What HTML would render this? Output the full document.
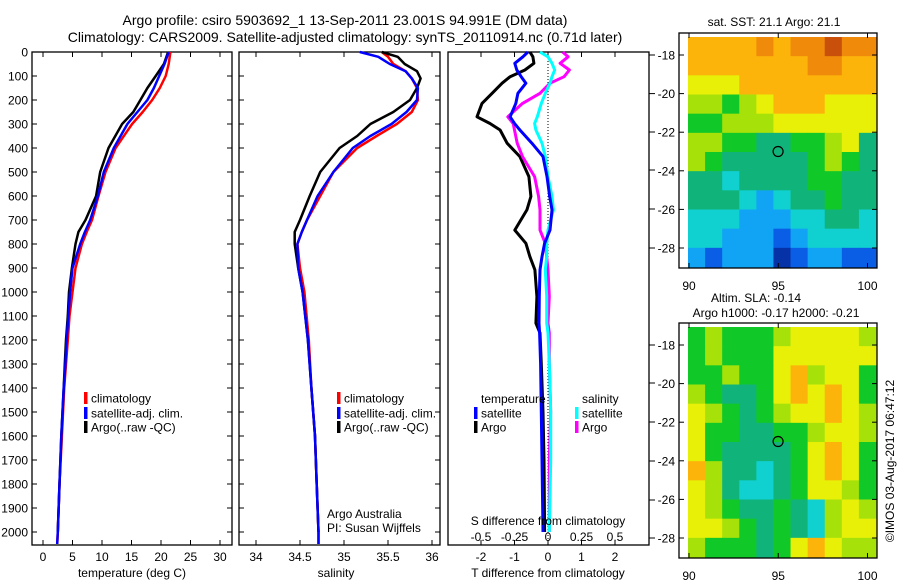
<!DOCTYPE html>
<html><head><meta charset="utf-8"><style>
html,body{margin:0;padding:0;background:#fff}
svg{display:block;font-family:"Liberation Sans",sans-serif}
</style></head><body>
<svg id="c" width="900" height="580" viewBox="0 0 900 580" xmlns="http://www.w3.org/2000/svg">
<text x="345" y="25" font-size="14" text-anchor="middle">Argo profile: csiro 5903692_1 13-Sep-2011 23.001S 94.991E (DM data)</text>
<text x="345" y="42" font-size="14" text-anchor="middle">Climatology: CARS2009. Satellite-adjusted climatology: synTS_20110914.nc (0.71d later)</text>
<g id="g"></g>
</svg>
<script>
// ---- data ----
const tDepth = [0,50,100,150,200,250,300,400,500,600,700,750,800,900,1000,1100,1200,1300,1400,1600,1800,2000,2050];
const tClim  = [21.6,21.3,20.8,19.8,18.5,16.9,15.1,12.3,10.6,9.4,8.3,7.4,6.6,5.5,5.0,4.5,4.2,3.9,3.6,3.2,2.8,2.5,2.4];
const tSat   = [21.3,20.6,19.7,18.8,17.7,16.0,14.3,12.0,10.3,9.3,8.0,7.1,6.3,5.0,4.6,4.3,4.0,3.8,3.5,3.1,2.8,2.5,2.4];
const tArgo  = [21.2,20.5,19.1,17.7,16.5,15.3,13.4,11.1,9.7,9.0,7.2,6.0,5.5,4.9,4.4,4.2,3.9,3.7,3.5,3.1,2.8,2.5,2.5];
const sDepth = [0,20,50,80,110,150,200,250,300,350,400,500,600,700,750,800,900,1000,1200,1400,1600,1800,2000,2050];
const sClim  = [35.43,35.5,35.56,35.7,35.77,35.83,35.84,35.77,35.6,35.37,35.15,34.88,34.73,34.58,34.52,34.47,34.5,34.55,34.6,34.63,34.67,34.69,34.71,34.71];
const sSat   = [35.18,35.39,35.52,35.7,35.77,35.84,35.83,35.71,35.54,35.3,35.1,34.88,34.7,34.58,34.52,34.47,34.48,34.53,34.59,34.63,34.67,34.69,34.71,34.71];
const sArgo  = [35.43,35.61,35.69,35.83,35.87,35.83,35.75,35.56,35.3,35.15,34.95,34.73,34.61,34.5,34.44,34.44,34.48,34.53,34.59,34.63,34.67,34.69,34.71,34.71];
const dDepth = [0,20,47,75,103,130,172,214,270,298,325,380,436,519,602,658,742,797,853,908,1019,1130,1171,1300,1500,1700,2000];
const dTArgo = [-0.54,-0.45,-0.42,-0.69,-1.13,-1.37,-1.67,-1.97,-2.12,-1.73,-1.43,-1.22,-0.84,-0.57,-0.51,-0.63,-0.99,-0.66,-0.54,-0.39,-0.33,-0.36,-0.24,-0.2,-0.15,-0.12,-0.1];
const dTSat  = [-0.6,-0.75,-0.99,-0.93,-0.8,-0.66,-0.9,-0.96,-1.13,-1.0,-0.84,-0.48,-0.15,-0.03,0.05,0.12,0.06,-0.1,-0.18,-0.24,-0.26,-0.27,-0.25,-0.22,-0.2,-0.18,-0.15];
const dSArgo = [0.11,0.15,0.09,0.16,0.12,0.015,-0.06,-0.19,-0.3,-0.26,-0.25,-0.23,-0.19,-0.1,-0.07,-0.06,-0.06,-0.02,-0.01,0.0,0.01,0.0,0.01,0.01,0.02,0.01,0.01];
const dSSat  = [-0.06,0.0,0.03,0.05,0.03,0.015,-0.02,-0.05,-0.08,-0.1,-0.09,-0.045,-0.02,0.0,0.03,0.04,0.0,-0.01,-0.01,-0.02,-0.01,-0.01,0.0,0.01,0.02,0.02,0.01];
const depthTicks = [0,100,200,300,400,500,600,700,800,900,1000,1100,1200,1300,1400,1500,1600,1700,1800,1900,2000];
const tTicks = [0,5,10,15,20,25,30];
const sTicks = [34,34.5,35,35.5,36];
const dTTicks = [-2,-1,0,1,2];
const dSTicks = [-0.5,-0.25,0,0.25,0.5];
const latTicks = [-18,-20,-22,-24,-26,-28];
const lonTicks = [90,95,100];
const sstGrid = [
[8,8,8,8,9,8,9,9,10,9,9],
[8,8,8,8,8,8,8,9,9,8,8],
[7,7,7,8,8,8,8,8,8,8,8],
[6,6,5,6,7,8,8,8,7,7,7],
[5,5,6,6,6,7,7,7,7,7,7],
[6,6,5,5,4,4,5,5,6,7,4],
[6,5,4,4,4,4,4,5,6,5,4],
[4,4,3,4,4,4,4,5,5,4,4],
[4,4,4,3,2,3,4,4,5,4,4],
[3,3,3,2,2,2,3,3,4,4,3],
[3,3,2,2,2,1,2,3,3,3,3],
[2,1,2,2,2,0,1,2,2,1,1]];
const slaGrid = [
[5,6,5,5,5,6,7,7,7,7,6],
[5,6,5,5,5,7,7,7,7,7,7],
[5,5,6,5,5,7,8,6,7,7,5],
[6,5,4,4,5,7,8,7,8,7,5],
[7,6,5,4,5,6,7,7,8,7,6],
[7,5,5,4,4,5,5,6,7,7,6],
[7,5,4,4,4,4,5,7,8,7,5],
[8,6,4,4,3,4,5,7,8,7,5],
[7,6,4,3,3,4,5,7,7,6,5],
[7,6,5,4,4,5,4,3,6,7,6],
[7,7,6,5,4,5,4,3,6,7,7],
[6,5,5,5,4,5,7,8,7,6,6]];
const palette = ['#0632a8','#0a5ee6','#12a4f4','#10d0d0','#10b47a','#10c828','#a6e20a','#e8f008','#fcb40a','#f08a0a','#c8500a'];

// ---- helpers ----
const NS='http://www.w3.org/2000/svg';
const G=document.getElementById('g');
function mk(tag,at,parent){const e=document.createElementNS(NS,tag);for(const k in at)e.setAttribute(k,at[k]);(parent||G).appendChild(e);return e;}
function txt(x,y,s,size,anchor,parent){const e=mk('text',{x:x,y:y,'font-size':size,'text-anchor':anchor||'middle'},parent);e.textContent=s;return e;}
const yD = d => 52 + d*0.24;
const xT = t => 43 + t*(177/30);
const xS = s => 300 + (s-34.5)*88;
const xDT = v => 548 + v*33.5;
const xDS = v => 548 + v*134;

function frame(x0,x1,name){
  const r=mk('rect',{x:x0,y:52,width:x1-x0,height:493,fill:'none',stroke:'#000','stroke-width':1.3});
  
  
}
function line(xs,ds,fx,color,w,name){
  let p='';
  for(let i=0;i<xs.length;i++){p+=(i?'L':'M')+fx(xs[i]).toFixed(1)+' '+yD(ds[i]).toFixed(1);}
  const e=mk('path',{d:p,fill:'none',stroke:color,'stroke-width':w,'stroke-linejoin':'round'});
  
  
}
function xticks(vals,fx,labels,ylab){
  vals.forEach((v,i)=>{const x=fx(v);
    mk('line',{x1:x,y1:52,x2:x,y2:57,stroke:'#000'});mk('line',{x1:x,y1:545,x2:x,y2:540,stroke:'#000'});
    if(labels){const t=txt(x,ylab,labels[i],12);
      
      }
  });
}
function yticks(x0,x1){depthTicks.forEach(d=>{const y=yD(d);
  mk('line',{x1:x0,y1:y,x2:x0+5,y2:y,stroke:'#000'});mk('line',{x1:x1,y1:y,x2:x1-5,y2:y,stroke:'#000'});});}
function legendRow(x,y,color,label){
  const m=mk('rect',{x:x,y:y-6,width:3.5,height:12,fill:color});
  
  
  if(label){const t=txt(x+7,y+4.5,label,12,'start');
    
    }
}

// ---- panel 1: temperature ----
frame(32,232,'temperature-panel');
yticks(32,232);
depthTicks.forEach(d=>{const t=txt(28,yD(d)+4.5,String(d),12,'end');
  
  });
xticks(tTicks,xT,tTicks.map(String),561);
line(tClim,tDepth,xT,'#ff0000',2.5,'temp-climatology-line');
line(tArgo,tDepth.slice(0,tArgo.length-1),xT,'#000',2.5,'temp-argo-line');
line(tSat,tDepth,xT,'#0000ff',2.5,'temp-satellite-line');
{const t=txt(132,577,'temperature (deg C)',12);}
legendRow(84,398,'#ff0000','climatology');
legendRow(84,413,'#0000ff','satellite-adj. clim.');
legendRow(84,427,'#000','Argo(..raw -QC)');

// ---- panel 2: salinity ----
frame(239,440,'salinity-panel');
yticks(239,440);
xticks(sTicks,xS,sTicks.map(String),561);
line(sClim,sDepth,xS,'#ff0000',2.5,'sal-climatology-line');
line(sArgo.slice(0,-1),sDepth.slice(0,-1),xS,'#000',2.5,'sal-argo-line');
line(sSat,sDepth,xS,'#0000ff',2.5,'sal-satellite-line');
{const t=txt(336,577,'salinity',12);}
legendRow(337,398,'#ff0000','climatology');
legendRow(337,413,'#0000ff','satellite-adj. clim.');
legendRow(337,427,'#000','Argo(..raw -QC)');
{const t=txt(327,518,'Argo Australia',12,'start');
 const t2=txt(327,532,'PI: Susan Wijffels',12,'start');}

// ---- panel 3: differences ----
frame(448,649,'difference-panel');
[55,93.6,132,170,209,248,345,383,422,461,500,538].forEach(y=>mk('line',{x1:649,y1:y,x2:655,y2:y,stroke:'#000'}));
mk('line',{x1:548,y1:52,x2:548,y2:545,stroke:'#000','stroke-dasharray':'1 2'});
xticks(dTTicks,xDT,dTTicks.map(String),561);
dSTicks.forEach(v=>{const t=txt(xDS(v),541,String(v),12);});
line(dTArgo,dDepth,xDT,'#000',3,'tdiff-argo-line');
line(dSArgo,dDepth,xDS,'#ff00ff',3,'sdiff-argo-line');
line(dSSat,dDepth,xDS,'#00ffff',3,'sdiff-satellite-line');
line(dTSat,dDepth,xDT,'#0000ff',3,'tdiff-satellite-line');
{const t=txt(548,525,'S difference from climatology',12);
 const t2=txt(548,577,'T difference from climatology',12);}
{const t=txt(481,403,'temperature',12,'start');
 const t2=txt(582,403,'salinity',12,'start');}
legendRow(474,413,'#0000ff','satellite');
legendRow(474,427,'#000','Argo');
legendRow(575,413,'#00ffff','satellite');
legendRow(575,427,'#ff00ff','Argo');

// ---- maps ----
function drawMap(grid,top,name){
  const x0=688,x1=876,y0=top,h=230,cols=grid[0].length,rows=grid.length;
  const cw=(x1-x0)/cols,ch=h/rows;
  const g=mk('g',{});
  
  
  grid.forEach((row,r)=>row.forEach((v,c)=>{
    const cell=mk('rect',{x:(x0+c*cw).toFixed(2),y:(y0+r*ch).toFixed(2),width:(cw+0.5).toFixed(2),height:(ch+0.5).toFixed(2),fill:palette[v]},g);
    
    
  }));
  const fr=mk('rect',{x:679,y:top-4,width:198,height:235,fill:'none',stroke:'#000','stroke-width':1.3});
  
  
  const yLat=l=>top+18+(-18-l)*19.3;
  const xLon=l=>689+(l-90)*17.85;
  latTicks.forEach(l=>{const y=yLat(l);
    mk('line',{x1:679,y1:y,x2:684,y2:y,stroke:'#000'});mk('line',{x1:877,y1:y,x2:872,y2:y,stroke:'#000'});
    const t=txt(675,y+4.5,String(l),12,'end');});
  lonTicks.forEach(l=>{const x=xLon(l);
    mk('line',{x1:x,y1:top-4,x2:x,y2:top+1,stroke:'#000'});mk('line',{x1:x,y1:top+231,x2:x,y2:top+226,stroke:'#000'});
    const t=txt(x,top+253,String(l),12);});
  const c=mk('circle',{cx:xLon(94.991),cy:yLat(-23.001),r:5,fill:'none',stroke:'#000','stroke-width':1.2});
  
  
}
drawMap(sstGrid,37,'sst-map');
drawMap(slaGrid,327,'sla-map');
{const t=txt(774,26,'sat. SST: 21.1  Argo: 21.1',12);
 const t2=txt(756,302,'Altim. SLA: -0.14',12);
 const t3=txt(776,317,'Argo h1000: -0.17 h2000: -0.21',12);
 const t4=txt(0,0,'©IMOS 03-Aug-2017 06:47:12',12);t4.setAttribute('transform','translate(894,461) rotate(-90)');
 }
</script>
</body></html>
